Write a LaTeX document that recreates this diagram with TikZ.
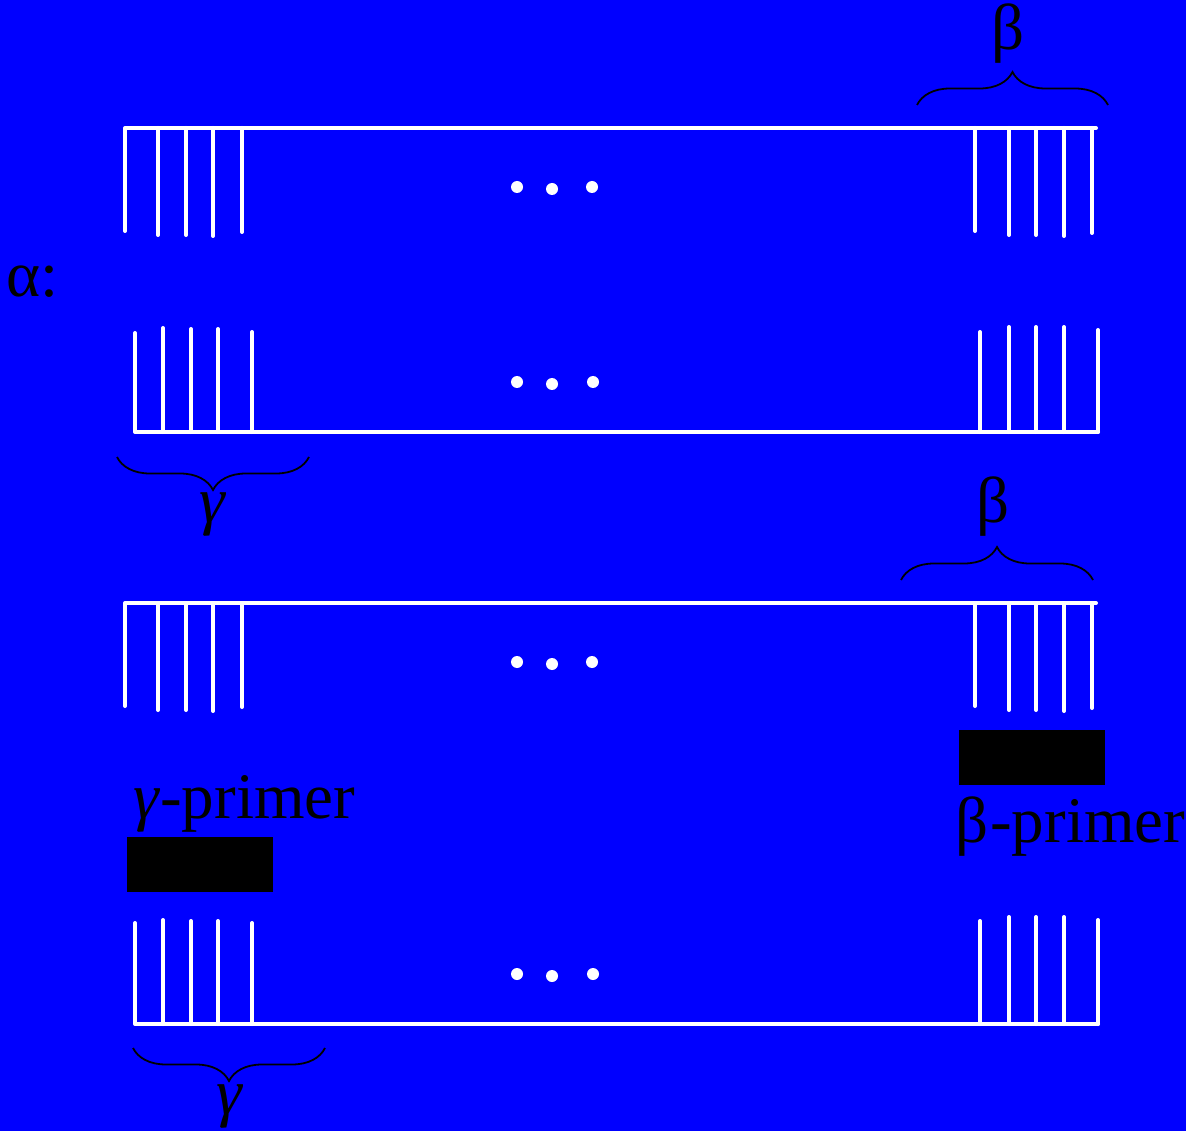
\documentclass[tikz,border=0pt]{standalone}
\usepackage{fontspec}
\setmainfont{Liberation Serif}
\usetikzlibrary{decorations.pathreplacing,positioning}

\begin{document}
\begin{tikzpicture}[x=1pt,y=-1pt,
  strand/.style={white,line width=4pt,line cap=round,line join=round},
  brc/.style={black,line width=1.8pt,decorate,decoration={brace,amplitude=33pt}},
  lab/.style={font=\fontsize{65}{72}\selectfont,inner sep=0pt},
  primer/.style={fill=black,draw=none,inner sep=0pt,minimum width=146pt,minimum height=55pt}]
\fill[blue] (0,0) rectangle (1186,1131);
\useasboundingbox (0,0) rectangle (1186,1131);
% first pair
\draw[strand] (125,231) -- (125,128) -- (1096,128);
\foreach \x/\y in {158/235,186/235,213/236,242/232,975/231,1009/235,1036/235,1064/236,1092/233}
  \draw[strand] (\x,128) -- (\x,\y);
\fill[white] (517,187) circle[radius=6] (552,189) circle[radius=6] (592,187) circle[radius=6];
\draw[strand] (135,333) -- (135,432) -- (1098,432);
\foreach \x/\y in {163/328,191/329,218/329,252/332,980/332,1009/327,1036/327,1064/327,1098/330}
  \draw[strand] (\x,432) -- (\x,\y);
\fill[white] (517,382) circle[radius=6] (552,384) circle[radius=6] (593,382) circle[radius=6];
\draw[brc] (917,105) -- (1108,105);
\draw[brc] (309,457) -- (117,457);
\node[lab,anchor=base] (betaA) at (1008,50) {β};
\node[lab,anchor=base] (gammaA) at (213,522) {\textit{γ}};
\node[lab,anchor=base west] (alpha) at (6,297) {α:};
% second pair
\draw[strand] (125,706) -- (125,603) -- (1096,603);
\foreach \x/\y in {158/710,186/710,213/711,242/707,975/706,1009/710,1036/710,1064/711,1092/708}
  \draw[strand] (\x,603) -- (\x,\y);
\fill[white] (517,662) circle[radius=6] (552,664) circle[radius=6] (592,662) circle[radius=6];
\draw[strand] (135,923) -- (135,1024) -- (1098,1024);
\foreach \x/\y in {163/920,191/921,218/921,252/923,980/921,1009/917,1036/917,1064/917,1098/920}
  \draw[strand] (\x,1024) -- (\x,\y);
\fill[white] (517,974) circle[radius=6] (552,976) circle[radius=6] (593,974) circle[radius=6];
\draw[brc] (901,580) -- (1093,580);
\draw[brc] (325,1048) -- (133,1048);
\node[lab,anchor=base] (betaB) at (993,522) {β};
\node[lab,anchor=base] (gammaB) at (230,1114) {\textit{γ}};
% primers
\node[primer] (gbox) at (200,864.5) {};
\node[primer] (bbox) at (1031.5,757) {};
\node[lab,anchor=base west] (gprimer) at (133,818) {\textit{γ}-primer};
\node[lab,anchor=base west] (bprimer) at (955,842) {β\kern2pt-primer};
\end{tikzpicture}
\end{document}
